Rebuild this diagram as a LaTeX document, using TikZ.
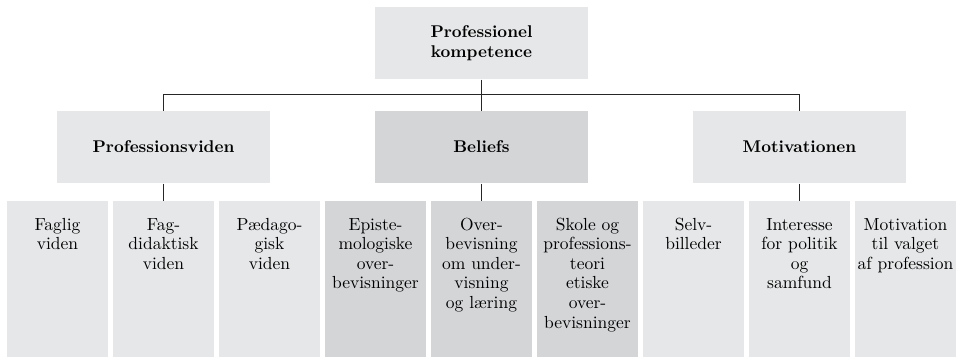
\documentclass[tikz,border=0pt]{standalone}
\usepackage{fontspec}
\setmainfont{lmroman10-regular.otf}[BoldFont=lmroman10-bold.otf]
\usetikzlibrary{positioning}

\definecolor{boxlight}{RGB}{230,231,232}
\definecolor{boxdark}{RGB}{212,213,215}
\newcommand{\leaftext}[1]{\parbox[c][156pt][t]{100pt}{\centering\rule{0pt}{29pt}#1}}

\begin{document}
\begin{tikzpicture}[
                x = 1pt, y = 1pt,
                node distance = 106pt, % centre to centre of the leaves
                line width = 1pt, draw = black!85 % connector style
            ]

            \tikzstyle{every node}=[inner sep = 0pt,
            font = \fontsize{17.5}{19.6}\selectfont]
            \tikzstyle{leafbox}=[fill = boxlight, minimum width = 101pt,
            minimum height = 156pt]
            \tikzstyle{headbox}=[fill = boxlight, minimum width = 213pt,
            minimum height = 72pt, align = center,
            font = \fontsize{17}{20}\selectfont\bfseries]

            \useasboundingbox (0,0) rectangle (959,-359);

            % bottom row
            \node (f1) [leafbox] at (57.5,-279) {\leaftext{Faglig\\viden}};
            \node (f2) [leafbox, right of=f1] {\leaftext{Fag-\\didaktisk\\viden}};
            \node (f3) [leafbox, right of=f2] {\leaftext{P\ae dago-\\gisk\\viden}};
            \node (b1) [leafbox, fill=boxdark, right of=f3]
            {\leaftext{Episte-\\mologiske\\over-\\bevisninger}};
            \node (b2) [leafbox, fill=boxdark, right of=b1]
            {\leaftext{Over-\\bevisning\\om under-\\visning\\og l\ae ring}};
            \node (b3) [leafbox, fill=boxdark, right of=b2]
            {\leaftext{Skole og\\professions-\\teori\\etiske\\over-\\bevisninger}};
            \node (m1) [leafbox, right of=b3] {\leaftext{Selv-\\billeder}};
            \node (m2) [leafbox, right of=m1]
            {\leaftext{Interesse\\for politik\\og\\samfund}};
            \node (m3) [leafbox, right of=m2]
            {\leaftext{Motivation\\til valget\\af profession}};

            % middle row and top
            \node (pv) [headbox, above of=f2, node distance=132pt] {Professionsviden};
            \node (bel) [headbox, fill=boxdark, above of=b2, node distance=132pt] {Beliefs};
            \node (mot) [headbox, above of=m2, node distance=132pt] {Motivationen};
            \node (pk) [headbox, above of=bel, node distance=104pt]
            {Professionel\\kompetence};

            \draw (pk.south) -- (bel.north);
            \draw (pv.north) -- ++(0,16) -| (mot.north);
            \draw (pv.south) -- (f2.north); \draw (bel.south) -- (b2.north);
            \draw (mot.south) -- (m2.north);

        \end{tikzpicture}
\end{document}
